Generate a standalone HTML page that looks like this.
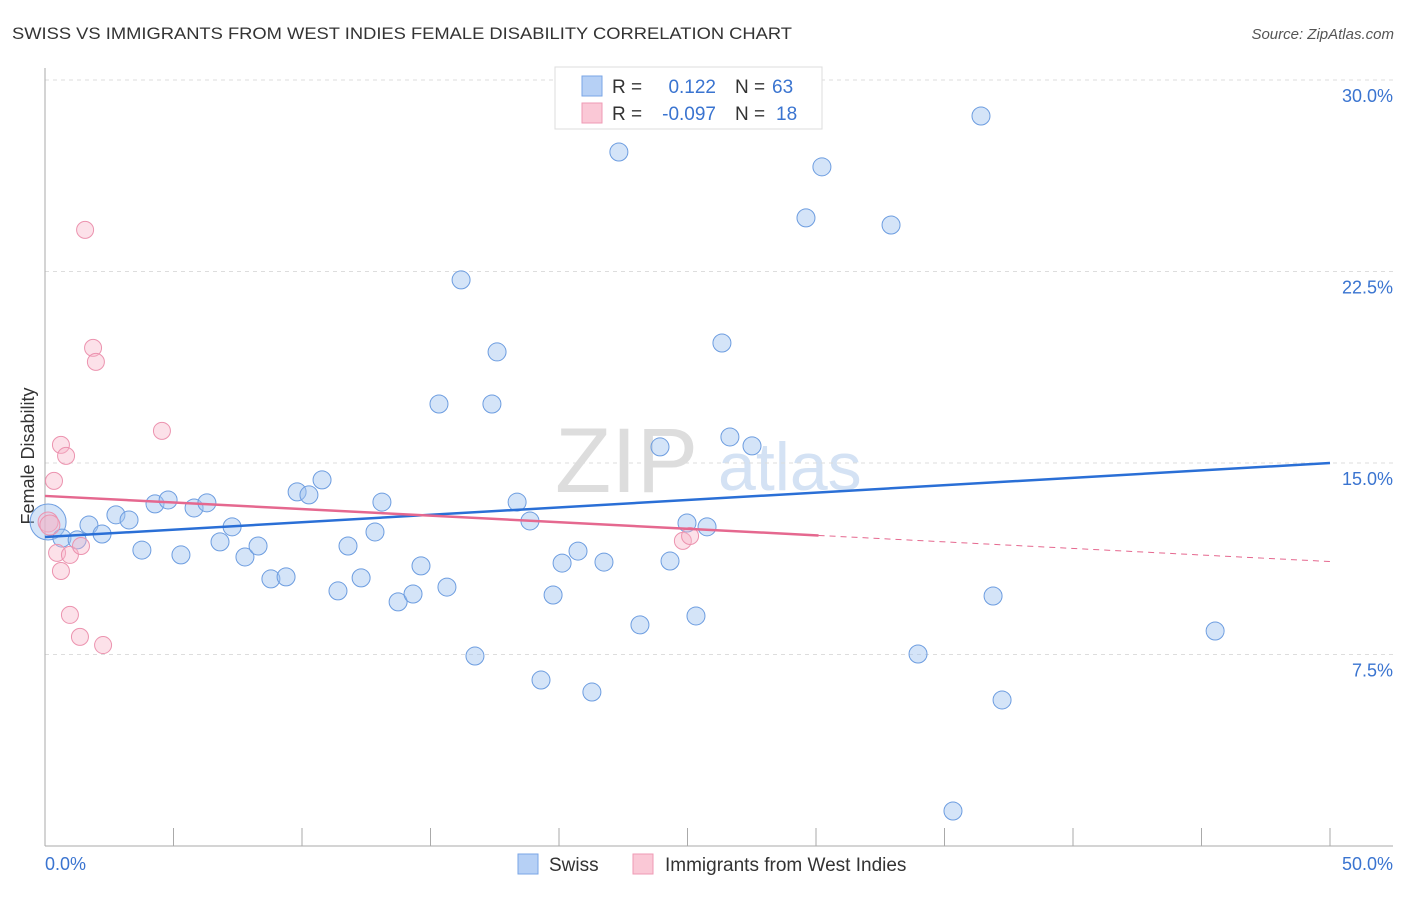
<!DOCTYPE html>
<html><head><meta charset="utf-8"><style>
body{margin:0;background:#fff;font-family:"Liberation Sans",sans-serif}
svg text{font-family:"Liberation Sans",sans-serif}
</style></head><body>
<svg width="1406" height="892" xmlns="http://www.w3.org/2000/svg">
<text x="12" y="39" font-size="17" fill="#333" textLength="780" lengthAdjust="spacingAndGlyphs">SWISS VS IMMIGRANTS FROM WEST INDIES FEMALE DISABILITY CORRELATION CHART</text>
<text x="1394" y="39" font-size="15" fill="#555" font-style="italic" text-anchor="end">Source: ZipAtlas.com</text>
<g>
<text x="555" y="492" font-size="92" fill="#ddd" font-family="Liberation Serif,serif">ZIP</text>
<text x="718" y="490" font-size="68" fill="#d4e2f4">atlas</text>
</g>
<g id="grid"></g>
<g id="axes"></g>
<text x="34" y="456" font-size="18" fill="#333" transform="rotate(-90 34 456)" text-anchor="middle">Female Disability</text>
<g id="marks"></g>
<g>
<rect x="555" y="67" width="267" height="62" fill="#fff" stroke="#ddd"/>
<rect x="582" y="76" width="20" height="20" fill="#b6d0f5" stroke="#7aa6e6"/>
<rect x="582" y="103" width="20" height="20" fill="#fac8d6" stroke="#ef9ab4"/>
<text x="612" y="93" font-size="19" fill="#333">R = </text><text x="716" y="93" font-size="19" fill="#3a74d0" text-anchor="end">0.122</text>
<text x="735" y="93" font-size="19" fill="#333">N = </text><text x="772" y="93" font-size="19" fill="#3a74d0">63</text>
<text x="612" y="120" font-size="19" fill="#333">R = </text><text x="716" y="120" font-size="19" fill="#3a74d0" text-anchor="end">-0.097</text>
<text x="735" y="120" font-size="19" fill="#333">N = </text><text x="776" y="120" font-size="19" fill="#3a74d0">18</text>
</g>
<g>
<rect x="518" y="854" width="20" height="20" fill="#b6d0f5" stroke="#7aa6e6"/>
<text x="549" y="871" font-size="19" fill="#333">Swiss</text>
<rect x="633" y="854" width="20" height="20" fill="#fac8d6" stroke="#ef9ab4"/>
<text x="665" y="871" font-size="19" fill="#333">Immigrants from West Indies</text>
</g>
</svg>
<script>
const swissX=[0.12,0.66,1.25,1.71,2.22,2.76,3.27,3.77,4.28,4.79,5.29,5.80,6.30,6.81,7.28,7.78,8.29,8.79,9.38,9.81,10.27,10.78,11.40,11.79,12.30,12.84,13.11,13.74,14.32,14.63,15.33,15.64,16.19,16.73,17.39,17.59,18.37,18.87,19.30,19.77,20.12,20.74,21.28,21.75,22.33,23.15,23.93,24.32,24.98,25.33,25.76,26.34,26.65,27.51,29.61,30.23,32.92,33.97,35.33,36.42,36.89,37.24,45.53];
const swissY=[12.69,12.06,11.99,12.57,12.22,12.97,12.77,11.59,13.40,13.55,11.40,13.24,13.44,11.91,12.50,11.32,11.75,10.46,10.54,13.87,13.75,14.34,9.99,11.75,10.50,12.30,13.47,9.56,9.87,10.97,17.31,10.14,22.17,7.44,17.31,19.35,13.47,12.73,6.50,9.83,11.08,11.55,6.03,11.12,27.18,8.66,15.63,11.16,12.65,9.01,12.50,19.70,16.02,15.67,24.60,26.60,24.32,7.52,1.37,28.59,9.79,5.72,8.42];
const wiX=[0.12,0.19,0.35,0.47,0.62,0.62,0.82,0.97,0.97,1.36,1.40,1.56,1.87,1.98,2.26,4.55,24.82,25.10];
const wiY=[12.69,12.57,14.30,11.48,15.71,10.77,15.28,11.40,9.05,8.19,11.75,24.13,19.51,18.96,7.87,16.26,11.95,12.14];
const swissTrend=[12.10,15.0];
const wiTrend=[13.71,11.14];
const wiSolidEnd=30.1;
const yTicks=[7.5,15,22.5,30];
const yTickLabels=["7.5%","15.0%","22.5%","30.0%"];
const xTicks=[0,5,10,15,20,25,30,35,40,45,50];

const NS="http://www.w3.org/2000/svg";
const X=v=>45+v/50*1285, Y=v=>846-v/30*766;
function mk(t,a,p){const e=document.createElementNS(NS,t);for(const k in a)e.setAttribute(k,a[k]);p.appendChild(e);return e;}
const grid=document.getElementById('grid'),axes=document.getElementById('axes'),marks=document.getElementById('marks');
yTicks.forEach((t,i)=>{
 const l=mk('line',{x1:45,x2:1393,y1:Y(t),y2:Y(t),stroke:'#ddd','stroke-dasharray':'4,4'},grid);
 
 
 const tx=mk('text',{x:1393,y:Y(t)+22,'font-size':18,fill:'#3a74d0','text-anchor':'end'},axes);
 tx.textContent=yTickLabels[i];
 
 
});
mk('line',{x1:45,x2:45,y1:68,y2:846,stroke:'#aaa'},axes);
mk('line',{x1:45,x2:1393,y1:846,y2:846,stroke:'#aaa'},axes);
xTicks.forEach(t=>{const l=mk('line',{x1:X(t),x2:X(t),y1:828,y2:846,stroke:'#aaa'},axes);
 
 });
let a=mk('text',{x:45,y:870,'font-size':18,fill:'#3a74d0'},axes);a.textContent="0.0%";


a=mk('text',{x:1393,y:870,'font-size':18,fill:'#3a74d0','text-anchor':'end'},axes);a.textContent="50.0%";



swissX.forEach((v,i)=>{const c=mk('circle',{cx:X(v),cy:Y(swissY[i]),r:i===0?18:9,fill:'rgba(160,196,240,0.45)',stroke:'#6d9de0','stroke-width':1},marks);
 
 });
wiX.forEach((v,i)=>{const c=mk('circle',{cx:X(v),cy:Y(wiY[i]),r:i<2?10:8.5,fill:'rgba(248,180,200,0.4)',stroke:'#ec93af','stroke-width':1},marks);
 
 });
const wy=x=>wiTrend[0]+(wiTrend[1]-wiTrend[0])*x/50;
let t=mk('line',{x1:X(0),y1:Y(swissTrend[0]),x2:X(50),y2:Y(swissTrend[1]),stroke:'#2a6fd6','stroke-width':2.5},marks);


t=mk('line',{x1:X(0),y1:Y(wy(0)),x2:X(wiSolidEnd),y2:Y(wy(wiSolidEnd)),stroke:'#e5688f','stroke-width':2.5},marks);


t=mk('line',{x1:X(wiSolidEnd),y1:Y(wy(wiSolidEnd)),x2:X(50),y2:Y(wy(50)),stroke:'#e5688f','stroke-width':1,'stroke-dasharray':'6,5'},marks);


</script>
</body></html>
